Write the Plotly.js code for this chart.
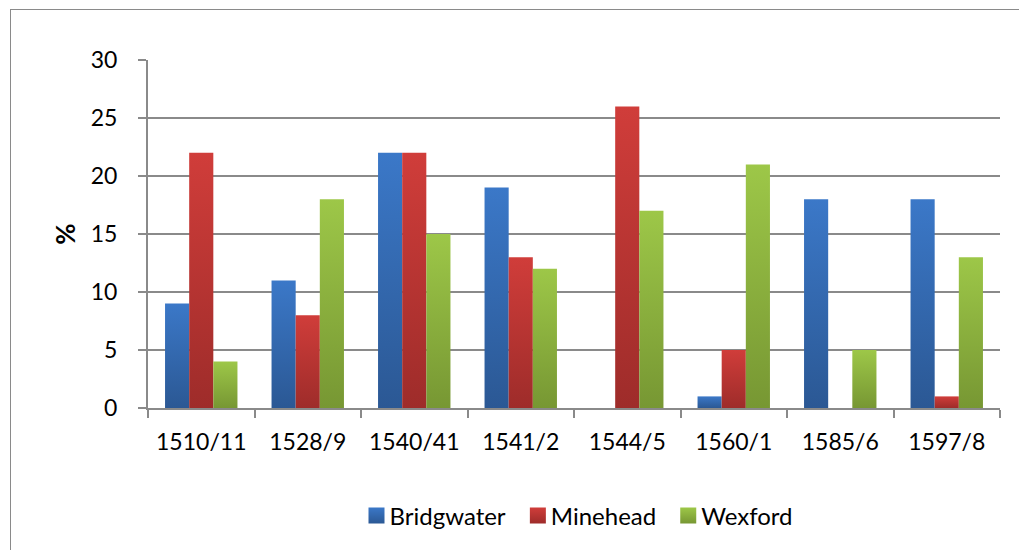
<!DOCTYPE html>
<html>
<head>
<meta charset="utf-8">
<script src="https://cdn.plot.ly/plotly-3.0.1.min.js"></script>
<style>
  html, body { margin: 0; padding: 0; background: #fff; }
  #wrap { position: relative; width: 1019px; height: 550px; overflow: hidden; }
  #chart { position: absolute; left: 0; top: 0; width: 1019px; height: 550px; }
  #frame { position: absolute; left: 10px; top: 9px; width: 1030px; height: 560px;
           border: 1.5px solid #8a8a8a; pointer-events: none; box-sizing: border-box; }
</style>
</head>
<body>
<div id="wrap">
  <div id="chart"></div>
  <div id="frame"></div>
</div>
<script>
const categories = ["1510/11", "1528/9", "1540/41", "1541/2", "1544/5", "1560/1", "1585/6", "1597/8"];
const bridgwater = [9, 11, 22, 19, 0, 1, 18, 18];
const minehead   = [22, 8, 22, 13, 26, 5, 0, 1];
const wexford    = [4, 18, 15, 12, 17, 21, 5, 13];
const yTicks = [0, 5, 10, 15, 20, 25, 30];

const font = "Lato, 'Open Sans', sans-serif";

const series = [
  { name: "Bridgwater", y: bridgwater, color: "#3468b0", top: "#3b78c8", bottom: "#2b5894", id: "gB" },
  { name: "Minehead",   y: minehead,   color: "#b93432", top: "#d03d3a", bottom: "#9e2c2a", id: "gM" },
  { name: "Wexford",    y: wexford,    color: "#8bb03e", top: "#9dc748", bottom: "#779733", id: "gW" }
];

const traces = series.map(s => ({
  type: "bar",
  x: categories,
  y: s.y,
  name: s.name,
  marker: { color: s.color, line: { width: 0 } },
  hoverinfo: "x+y+name"
}));

const layout = {
  width: 1019,
  height: 550,
  margin: { l: 148, r: 19, t: 60, b: 142, pad: 0 },
  paper_bgcolor: "#ffffff",
  plot_bgcolor: "#ffffff",
  font: { family: font, size: 23, color: "#000" },
  barmode: "group",
  bargap: 0.32,
  bargroupgap: 0,
  showlegend: true,
  legend: {
    orientation: "h",
    x: 0.50, xanchor: "center",
    y: -0.31, yanchor: "middle",
    font: { family: font, size: 24, color: "#000" },
    itemwidth: 30,
    tracegroupgap: 0
  },
  xaxis: {
    type: "category",
    showline: true, linecolor: "#8a8a8a", linewidth: 2,
    ticks: "outside", tickson: "boundaries", ticklen: 8, tickwidth: 2, tickcolor: "#8a8a8a",
    ticklabelstandoff: 12,
    showgrid: false, zeroline: false,
    tickfont: { family: font, size: 23, color: "#000" }
  },
  yaxis: {
    range: [0, 30],
    tickvals: yTicks,
    ticktext: yTicks.map(String),
    showline: true, linecolor: "#8a8a8a", linewidth: 2,
    ticks: "outside", ticklen: 8, tickwidth: 2, tickcolor: "#8a8a8a",
    ticklabelstandoff: 16,
    showgrid: true, gridcolor: "#8a8a8a", gridwidth: 2,
    zeroline: false,
    tickfont: { family: font, size: 23, color: "#000" },
    title: { text: "%", font: { family: font, size: 26, color: "#000", weight: "bold" }, standoff: 8 }
  }
};

Plotly.newPlot("chart", traces, layout, { displayModeBar: false, staticPlot: true }).then(gd => {
  // vertical gradient fills like the original spreadsheet chart
  const svg = gd.querySelector("svg.main-svg");
  const NS = "http://www.w3.org/2000/svg";
  let defs = svg.querySelector("defs");
  if (!defs) { defs = document.createElementNS(NS, "defs"); svg.insertBefore(defs, svg.firstChild); }
  series.forEach(s => {
    const g = document.createElementNS(NS, "linearGradient");
    g.setAttribute("id", s.id);
    g.setAttribute("x1", "0"); g.setAttribute("y1", "0");
    g.setAttribute("x2", "0"); g.setAttribute("y2", "1");
    [[0, s.top], [1, s.bottom]].forEach(([o, c]) => {
      const st = document.createElementNS(NS, "stop");
      st.setAttribute("offset", o); st.setAttribute("stop-color", c);
      g.appendChild(st);
    });
    defs.appendChild(g);
  });
  gd.querySelectorAll(".barlayer .trace.bars").forEach((tr, i) => {
    tr.querySelectorAll("path").forEach(p => { p.style.fill = "url(#" + series[i].id + ")"; });
  });
  // larger legend keys placed close to their labels
  gd.querySelectorAll(".legend .traces").forEach((tr, i) => {
    const pts = tr.querySelector(".legendpoints");
    if (pts) pts.setAttribute("transform", "translate(7,0)");
    tr.querySelectorAll(".legendpoints path").forEach(p => {
      p.setAttribute("d", "M8,8H-8V-8H8Z");
      p.style.fill = "url(#" + series[i].id + ")";
    });
  });
});
</script>
</body>
</html>
